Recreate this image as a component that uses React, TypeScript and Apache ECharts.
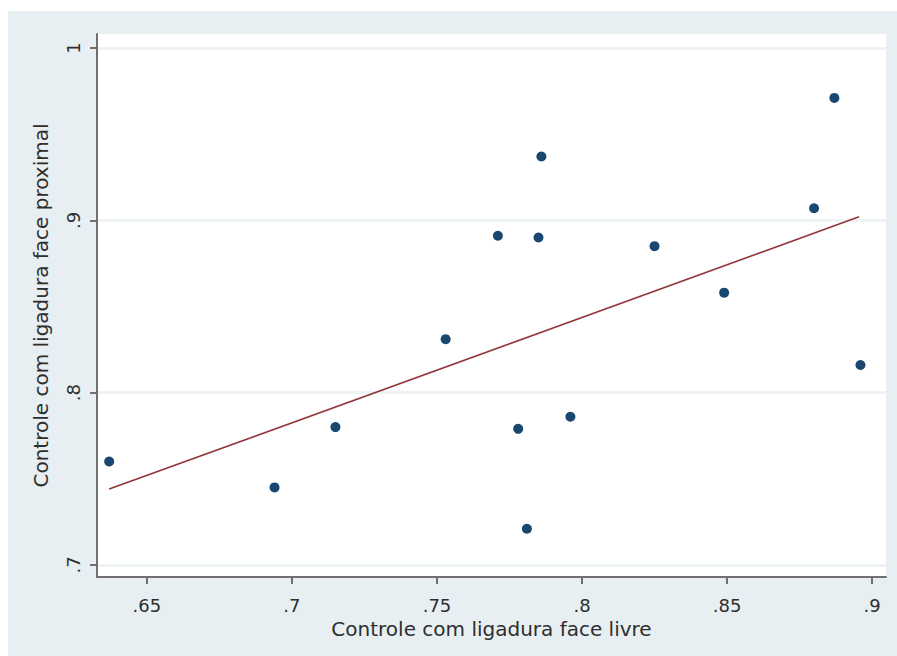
import React, { useEffect, useRef } from "react";
import * as echarts from "echarts";

const xValues = [0.637, 0.694, 0.715, 0.753, 0.771, 0.778, 0.781, 0.785, 0.786, 0.796, 0.825, 0.849, 0.880, 0.887, 0.896];
const yValues = [0.760, 0.745, 0.780, 0.831, 0.891, 0.779, 0.721, 0.890, 0.937, 0.786, 0.885, 0.858, 0.907, 0.971, 0.816];
const fitX = [0.637, 0.8955];
const fitY = [0.744, 0.902];
const xTicks = [0.65, 0.7, 0.75, 0.8, 0.85, 0.9];
const yTicks = [0.7, 0.8, 0.9, 1];
const xTitle = "Controle com ligadura face livre";
const yTitle = "Controle com ligadura face proximal";

const fmt = (v: number) => {
  const s = String(Math.round(v * 1000) / 1000);
  return s.replace(/^0\./, ".");
};

const FONT = "DejaVu Sans";

export default function App() {
  const ref = useRef<HTMLDivElement>(null);
  useEffect(() => {
    if (!ref.current) return;
    const chart = echarts.init(ref.current, undefined, { renderer: "svg" });
    const axisColor = "#707070";
    chart.setOption({
      animation: false,
      backgroundColor: "#e8eff2",
      grid: {
        left: 89,
        top: 23,
        right: 11,
        bottom: 79,
        show: true,
        backgroundColor: "#ffffff",
        borderWidth: 0,
      },
      xAxis: {
        type: "value",
        min: 0.6328,
        max: 0.9048,
        name: xTitle,
        nameLocation: "middle",
        nameGap: 36,
        nameTextStyle: { fontFamily: FONT, fontSize: 20, color: "#2e2e2e" },
        axisLine: { onZero: false, lineStyle: { color: axisColor, width: 2 } },
        axisTick: { show: true, length: 7, lineStyle: { color: axisColor, width: 2 }, customValues: xTicks },
        axisLabel: { customValues: xTicks, formatter: fmt, fontFamily: FONT, fontSize: 18, color: "#2e2e2e", margin: 19 },
        splitLine: { show: false },
      },
      yAxis: {
        type: "value",
        min: 0.693,
        max: 1.0081,
        name: yTitle,
        nameLocation: "middle",
        nameGap: 46,
        nameRotate: 90,
        nameTextStyle: { fontFamily: FONT, fontSize: 20, color: "#2e2e2e" },
        axisLine: { show: true, onZero: false, lineStyle: { color: axisColor, width: 2 } },
        axisTick: { show: true, length: 7, lineStyle: { color: axisColor, width: 2 }, customValues: yTicks },
        axisLabel: { customValues: yTicks, formatter: fmt, rotate: 90, fontFamily: FONT, fontSize: 18, color: "#2e2e2e", margin: 15 },
        splitLine: { show: true, lineStyle: { color: "#eef3f5", width: 3 } },
      },
      series: [
        {
          type: "line",
          data: fitX.map((x, i) => [x, fitY[i]]),
          showSymbol: false,
          lineStyle: { color: "#90353b", width: 1.6 },
          z: 2,
        },
        {
          type: "scatter",
          data: xValues.map((x, i) => [x, yValues[i]]),
          symbol: "circle",
          symbolSize: 10,
          itemStyle: { color: "#1a476f", opacity: 1 },
          z: 3,
        },
      ],
    });
    return () => chart.dispose();
  }, []);
  return (
    <div
      ref={ref}
      style={{ position: "absolute", left: 8, top: 11, width: 889, height: 645 }}
    />
  );
}
